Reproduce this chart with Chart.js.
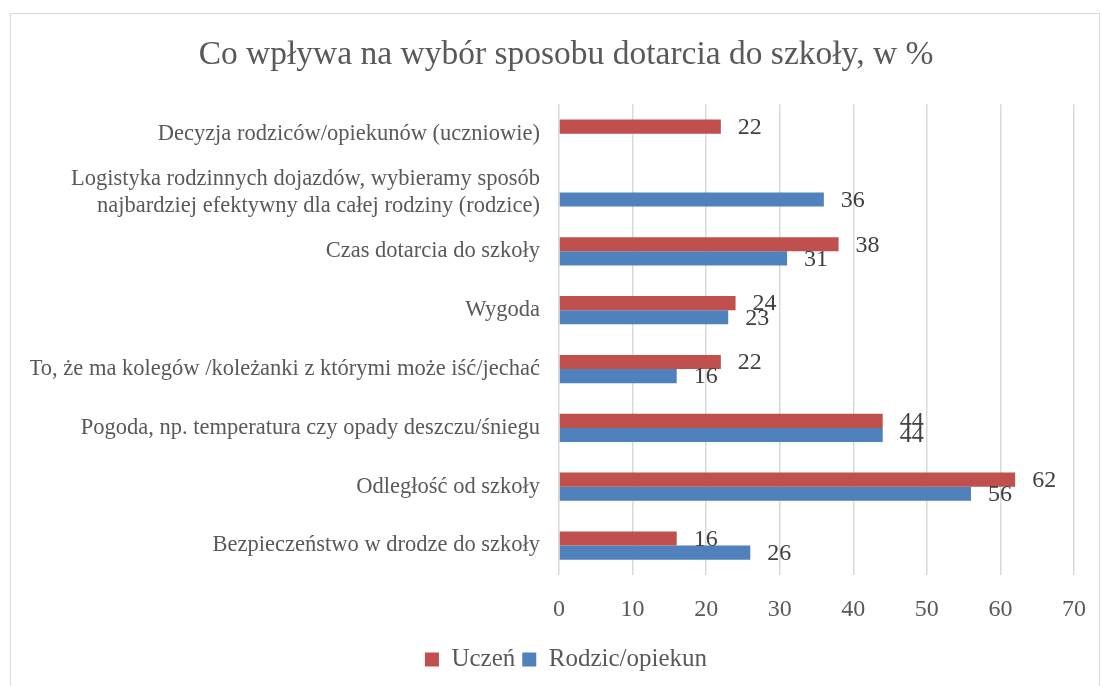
<!DOCTYPE html>
<html>
<head>
<meta charset="utf-8">
<script src="https://cdn.jsdelivr.net/npm/chart.js@4"></script>
<style>
  html, body { margin: 0; padding: 0; background: #ffffff; }
  #wrap { position: relative; width: 1102px; height: 686px; overflow: hidden; }
  #frame { position: absolute; left: 10px; top: 13px; width: 1090px; height: 700px; border: 1px solid #d9d9d9; box-sizing: border-box; }
  #chart { position: absolute; left: 0; top: 0; }
</style>
</head>
<body>
<div id="wrap">
  <div id="frame"></div>
  <canvas id="chart" width="1102" height="686"></canvas>
</div>
<script>
// categories, top to bottom
const categories = [
    'Decyzja rodziców/opiekunów (uczniowie)',
    ['Logistyka rodzinnych dojazdów, wybieramy sposób', 'najbardziej efektywny dla całej rodziny (rodzice)'],
    'Czas dotarcia do szkoły',
    'Wygoda',
    'To, że ma kolegów /koleżanki z którymi może iść/jechać',
    'Pogoda, np. temperatura czy opady deszczu/śniegu',
    'Odległość od szkoły',
    'Bezpieczeństwo w drodze do szkoły'
];
const uczen = [22, null, 38, 24, 22, 44, 62, 16];
const rodzic = [null, 36, 31, 23, 16, 44, 56, 26];
const xTicks = [0, 10, 20, 30, 40, 50, 60, 70];

const serif = 'Liberation Serif';
const padLeft = 30;

// data labels to the right of each bar
const barLabels = {
    id: 'barLabels',
    afterDatasetsDraw(chart) {
        const ctx = chart.ctx;
        ctx.save();
        ctx.font = '24px "' + serif + '"';
        ctx.fillStyle = '#404040';
        ctx.textAlign = 'left';
        ctx.textBaseline = 'middle';
        chart.data.datasets.forEach((ds, i) => {
            const meta = chart.getDatasetMeta(i);
            meta.data.forEach((bar, j) => {
                const v = ds.data[j];
                if (v === null || v === undefined) return;
                ctx.fillText(String(v), bar.x + 17, bar.y + 1);
            });
        });
        ctx.restore();
    }
};

// title and legend sit a bit right of the canvas centre in the original
const nudgeBlocks = {
    id: 'nudgeBlocks',
    afterLayout(chart) {
        [chart.titleBlock, chart.legend].forEach(b => {
            if (!b) return;
            b.left += 14;
            b.right += 14;
        });
    }
};

const ctx = document.getElementById('chart').getContext('2d');
new Chart(ctx, {
    type: 'bar',
    data: {
        labels: categories,
        datasets: [
            {
                label: 'Uczeń',
                data: uczen,
                backgroundColor: '#c0504d',
                categoryPercentage: 0.48,
                barPercentage: 1.0
            },
            {
                label: 'Rodzic/opiekun',
                data: rodzic,
                backgroundColor: '#4f81bd',
                categoryPercentage: 0.48,
                barPercentage: 1.0
            }
        ]
    },
    options: {
        indexAxis: 'y',
        responsive: false,
        animation: false,
        layout: {
            padding: { left: padLeft, right: 28, top: 0, bottom: 4 }
        },
        plugins: {
            title: {
                display: true,
                text: 'Co wpływa na wybór sposobu dotarcia do szkoły, w %',
                color: '#595959',
                font: { family: serif, size: 33.5, weight: 'normal' },
                padding: { top: 35, bottom: 29 }
            },
            legend: {
                position: 'bottom',
                labels: {
                    color: '#595959',
                    font: { family: serif, size: 25 },
                    boxWidth: 14,
                    boxHeight: 14,
                    padding: 7
                }
            },
            tooltip: { enabled: false }
        },
        scales: {
            x: {
                min: 0,
                max: 70,
                afterBuildTicks: (scale) => {
                    scale.ticks = xTicks.map(v => ({ value: v }));
                },
                afterFit: (scale) => {
                    scale.height = 65;
                    scale.paddingLeft = 0;
                    scale.paddingRight = 0;
                },
                grid: {
                    color: '#d9d9d9',
                    lineWidth: 1.5,
                    drawTicks: false
                },
                border: { display: false },
                ticks: {
                    color: '#595959',
                    font: { family: serif, size: 24 },
                    padding: 20
                }
            },
            y: {
                afterFit: (scale) => {
                    scale.width = 559 - padLeft;
                },
                grid: { display: false, drawTicks: false },
                border: { display: false },
                ticks: {
                    color: '#595959',
                    font: { family: serif, size: 22.5, lineHeight: 1.18 },
                    padding: 19
                }
            }
        }
    },
    plugins: [barLabels, nudgeBlocks]
});
</script>
</body>
</html>
